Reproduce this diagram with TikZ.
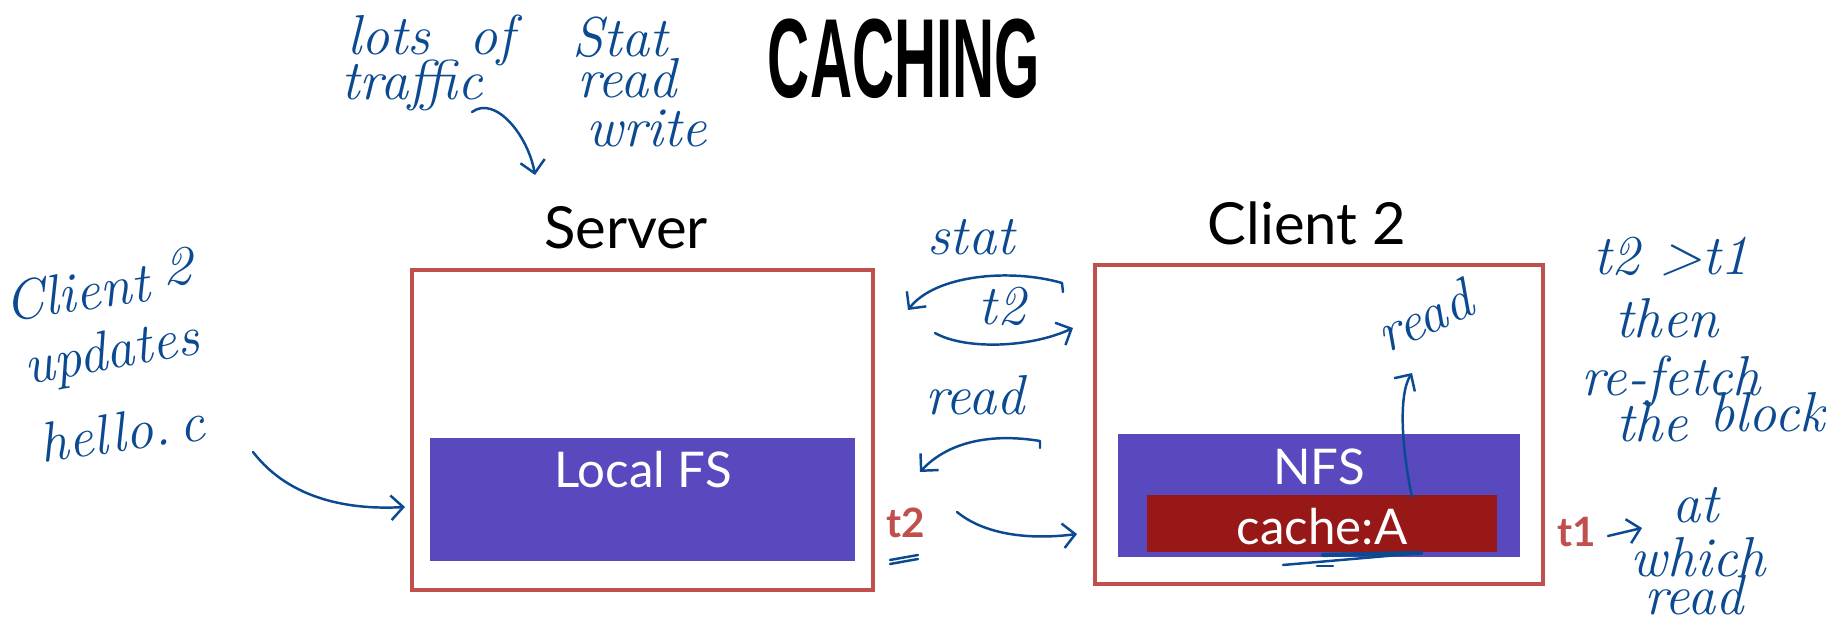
\documentclass[tikz,border=0pt]{standalone}
\usepackage{fontspec}
\newfontfamily\gill{Lato}
\newfontfamily\headfont{Liberation Sans}
\usetikzlibrary{fit,arrows.meta}
\definecolor{boxred}{HTML}{C0504D}
\definecolor{fspurple}{HTML}{5849BE}
\definecolor{cachered}{HTML}{981818}
\definecolor{hwblue}{HTML}{0B4A91}
\begin{document}
\begin{tikzpicture}[x=0.01cm,y=-0.01cm,
  hw/.style={text=hwblue, font=\fontsize{16}{19}\selectfont\itshape, inner sep=0pt},
  hwline/.style={draw=hwblue, line width=0.7pt, line cap=round, line join=round},
  hwarrow/.style={hwline, -{Straight Barb[length=3.5pt,width=7pt,line width=0.7pt]}},
  outer/.style={draw=boxred, line width=1.3pt, inner sep=0pt},
  fsbox/.style={fill=fspurple, inner sep=0pt},
  boxlabel/.style={font=\gill\fontsize{14}{16}\selectfont, text=white, inner sep=0pt, anchor=base},
  titletext/.style={font=\gill\fontsize{16.5}{19}\selectfont, inner sep=0pt, anchor=base},
  tmark/.style={font=\gill\bfseries\fontsize{11.5}{13}\selectfont, text=boxred, inner sep=0pt, anchor=base}]
\useasboundingbox (0,0) rectangle (1826,628);
\fill[white] (0,0) rectangle (1826,628);

% heading and titles
\node[anchor=base, inner sep=0pt] (heading) at (904,98)
  {\scalebox{0.518}[1]{\headfont\bfseries\fontsize{32}{35}\selectfont CACHING}};
\node[titletext] (servertitle) at (626,249) {Server};
\node[titletext] (clienttitle) at (1307,245) {Client 2};

% server
\node[outer, fit={(412,270) (873,590)}] (server) {};
\node[fsbox, fit={(430,438) (855,561)}] (localfs) {};
\node[boxlabel] (localfslabel) at (643,488) {Local FS};

% client
\node[outer, fit={(1095,265) (1543,584)}] (client) {};
\node[fsbox, fit={(1118,434) (1520,557)}] (nfs) {};
\node[fill=cachered, inner sep=0pt, fit={(1147,495) (1497,552)}] (cache) {};
\node[boxlabel] (nfslabel) at (1319,485) {NFS};
\node[boxlabel] (cachelabel) at (1322,545) {cache:A};

% time marks
\node[tmark] (t2mark) at (906,538) {t2};
\node[tmark] (t1mark) at (1577,547) {t1};

% handwriting: top
\node[hw, anchor=base] (lotsof) at (431,55) {lots \ of};
\node[hw, anchor=base] (traffic) at (412,100) {traffic};
\node[hw, anchor=base] (hwstat) at (620,57) {Stat};
\node[hw, anchor=base] (hwread) at (627,98) {read};
\node[hw, anchor=base] (hwwrite) at (647,147) {write};

% handwriting: left
\node[hw, rotate=8] (hwclient) at (77,292) {Client};
\node[hw] (hwtwo) at (178,266) {2};
\node[hw, rotate=10] (hwupdates) at (112,355) {updates};
\node[hw, rotate=8] (hwhello) at (122,432) {hello.\,c};

% handwriting: middle
\node[hw, anchor=base] (midstat) at (971,255) {stat};
\node[hw, anchor=base] (midt2) at (1002,325) {t2};
\node[hw, anchor=base] (midread) at (975,415) {read};
\node[hw, rotate=24] (clientread) at (1424,316) {read};

% handwriting: right
\node[hw, anchor=base] (cmp) at (1671,275) {t2 >t1};
\node[hw, anchor=base] (then) at (1667,338) {then};
\node[hw, anchor=base] (refetch) at (1671,396) {re-fetch};
\node[hw, anchor=base] (the) at (1652,442) {the};
\node[hw, anchor=base] (block) at (1767,432) {block};
\node[hw, anchor=base] (at) at (1696,523) {at};
\node[hw, anchor=base] (which) at (1698,577) {which};
\node[hw, anchor=base] (readlast) at (1694,615) {read};

% arrow end points
\coordinate (trafS) at (472,112);
\coordinate (trafE) at (535,175);
\coordinate (helloS) at (253,452);
\coordinate (helloE) at (405,507);
\coordinate (statS) at (1063,292);
\coordinate (statE) at (908,310);
\coordinate (retS) at (935,333);
\coordinate (retE) at (1073,328);
\coordinate (readS) at (1040,448);
\coordinate (readE) at (920,472);
\coordinate (dataS) at (957,512);
\coordinate (dataE) at (1077,534);
\coordinate (upS) at (1412,497);
\coordinate (upE) at (1412,373);
\coordinate (t1S) at (1608,536);
\coordinate (t1E) at (1642,528);

\draw[hwarrow] (trafS) .. controls (495,95) and (528,135) .. (trafE);
\draw[hwarrow] (helloS) .. controls (290,500) and (350,510) .. (helloE);
\draw[hwarrow] (statS) -- (1062,283) .. controls (1010,268) and (935,275) .. (statE);
\draw[hwarrow] (retS) .. controls (965,350) and (1030,348) .. (retE);
\draw[hwarrow] (readS) -- (1040,441) .. controls (985,432) and (945,445) .. (readE);
\draw[hwarrow] (dataS) .. controls (985,535) and (1030,540) .. (dataE);
\draw[hwarrow] (upS) .. controls (1402,450) and (1398,395) .. (upE);
\draw[hwarrow] (t1S) -- (t1E);

% underlines
\draw[hwline] (890,560) -- (918,555);
\draw[hwline] (890,564) -- (918,559);
\draw[hwline] (1283,565) -- (1422,553);
\draw[hwline, line width=1.2pt] (1323,555) -- (1421,553);
\draw[hwline] (1317,566) -- (1333,566);
\end{tikzpicture}
\end{document}
